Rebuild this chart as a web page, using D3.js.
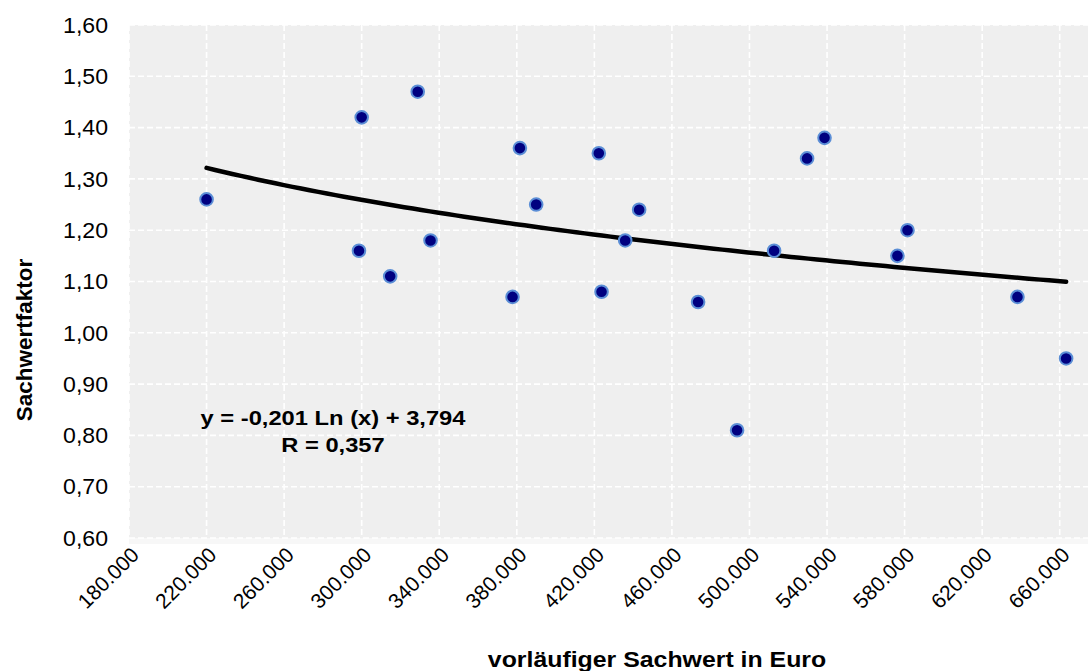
<!DOCTYPE html>
<html>
<head>
<meta charset="utf-8">
<script src="https://cdn.jsdelivr.net/npm/d3@7"></script>
<style>
  body { margin: 0; background: #fff; }
  svg { display: block; font-family: Arial, "Liberation Sans", sans-serif; }
</style>
</head>
<body>
<svg id="chart" width="1088" height="671"></svg>
<script>
// Sachwert (Euro) vs. Sachwertfaktor
const sachwert = [220000, 298600, 300000, 314700, 328900, 335500, 377800, 381600, 390000,
  422300, 423700, 435900, 443100, 473500, 493600, 512700, 529700, 538700, 576300, 581500,
  638200, 663300]
const faktor = [1.26, 1.16, 1.42, 1.11, 1.47, 1.18, 1.07, 1.36, 1.25,
  1.35, 1.08, 1.18, 1.24, 1.06, 0.81, 1.16, 1.34, 1.38, 1.15, 1.20,
  1.07, 0.95]

const xTicks = d3.range(180000, 660001, 40000)
const yTicks = d3.range(0.6, 1.6001, 0.1)

// logarithmic trend line as printed on the chart
const trendA = -0.201, trendB = 3.794
const equationLines = ["y = -0,201 Ln (x) + 3,794", "R = 0,357"]

const xTitle = "vorläufiger Sachwert in Euro"
const yTitle = "Sachwertfaktor"

const points = sachwert.map((d, i) => ({ x: d, y: faktor[i] }))

const svg = d3.select('#chart')
const width = 1088, height = 671
// the original picture is a bit wider than tall, so flat text gets stretched
const stretch = 1.13

const x = d3.scaleLinear().domain([180000, 680000]).range([129, 1098.5])
const y = d3.scaleLinear().domain([0.6, 1.6]).range([538, 25])

const fmtX = d => d3.format(',')(d).replace(/,/g, '.')
const fmtY = d => d.toFixed(2).replace('.', ',')

// faint shadow under plot area
svg.append('rect')
  .attr('x', x(180000)).attr('y', y(0.6))
  .attr('width', width - x(180000)).attr('height', 6)
  .attr('fill', '#f7f7f7')

svg.append('rect')
  .attr('x', x(180000)).attr('y', y(1.6))
  .attr('width', width - x(180000)).attr('height', y(0.6) - y(1.6))
  .attr('fill', '#efefef')

const grid = svg.append('g')
  .attr('stroke', '#fff')
  .attr('stroke-width', 1.6)
  .attr('stroke-dasharray', '6,3')

grid.selectAll('line.h')
  .data(yTicks)
  .enter().append('line')
  .attr('class', 'h')
  .attr('x1', x(180000)).attr('x2', width)
  .attr('y1', d => y(d)).attr('y2', d => y(d))

grid.selectAll('line.v')
  .data(xTicks)
  .enter().append('line')
  .attr('class', 'v')
  .attr('x1', d => x(d)).attr('x2', d => x(d))
  .attr('y1', y(1.6)).attr('y2', y(0.6))

// y axis labels
svg.append('g')
  .selectAll('text')
  .data(yTicks)
  .enter().append('text')
  .attr('transform', d => `translate(108,${y(d)}) scale(1.05,1)`)
  .attr('dy', '0.35em')
  .attr('text-anchor', 'end')
  .attr('font-size', 22)
  .text(fmtY)

// x axis labels, rotated
svg.append('g')
  .selectAll('text')
  .data(xTicks)
  .enter().append('text')
  .attr('transform', d => `translate(${x(d) + 6},${y(0.6) + 13}) rotate(-45)`)
  .attr('text-anchor', 'end')
  .attr('dy', '0.35em')
  .attr('font-size', 21)
  .text(fmtX)

// trend line
const [xMin, xMax] = d3.extent(sachwert)
const trendData = d3.range(xMin, xMax + 1, (xMax - xMin) / 100)
  .map(v => ({ x: v, y: trendA * Math.log(v) + trendB }))

svg.append('path')
  .datum(trendData)
  .attr('fill', 'none')
  .attr('stroke', '#000')
  .attr('stroke-width', 4.5)
  .attr('stroke-linecap', 'round')
  .attr('d', d3.line().x(d => x(d.x)).y(d => y(d.y)))

svg.append('g')
  .selectAll('circle')
  .data(points)
  .enter().append('circle')
  .attr('cx', d => x(d.x))
  .attr('cy', d => y(d.y))
  .attr('r', 6.3)
  .attr('fill', '#000080')
  .attr('stroke', '#5b8ed6')
  .attr('stroke-width', 2)

// equation label
svg.append('g')
  .selectAll('text')
  .data(equationLines)
  .enter().append('text')
  .attr('transform', (d, i) => `translate(333,${425 + i * 27}) scale(${stretch},1)`)
  .attr('text-anchor', 'middle')
  .attr('font-size', 21)
  .attr('font-weight', 'bold')
  .text(d => d)

svg.append('text')
  .attr('transform', `translate(657,667) scale(${stretch},1)`)
  .attr('text-anchor', 'middle')
  .attr('font-size', 22)
  .attr('font-weight', 'bold')
  .text(xTitle)

svg.append('text')
  .attr('transform', 'translate(32,340) rotate(-90)')
  .attr('text-anchor', 'middle')
  .attr('font-size', 22.5)
  .attr('font-weight', 'bold')
  .text(yTitle)
</script>
</body>
</html>
